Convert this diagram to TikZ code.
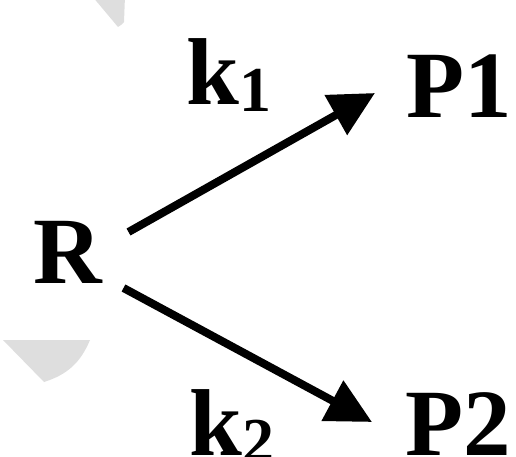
\documentclass[tikz,border=0pt]{standalone}
\usepackage{fontspec}
\setmainfont{Liberation Serif}
\definecolor{ShadeGray}{HTML}{DEDEDE}
\usetikzlibrary{positioning,arrows.meta}

\begin{document}
\begin{tikzpicture}[x=1pt,y=-1pt,
    spec/.style={inner sep=0pt, anchor=base west, font=\fontsize{95pt}{100pt}\selectfont\bfseries},
    rxn/.style={line width=8pt, -{Triangle[length=45pt,width=44pt]}}]
  \useasboundingbox (0,0) rectangle (516,457);
  % faded marks on the left
  \fill[ShadeGray] (92,-4) -- (125,-4) -- (124,22) to[bend left=10] (118,27) -- cycle;
  \fill[ShadeGray] (3,340) -- (90,340) to[bend left=25] (44,382) -- cycle;
  % species
  \node[spec] (R) at (33.5,283) {R};
  \node[spec] (P1) at (406,118) {P1};
  \node[spec] (P2) at (405,455) {P2};
  \node[spec] (k1) at (186,105) {k\raisebox{-7pt}{\fontsize{64pt}{70pt}\selectfont 1}};
  \node[spec] (k2) at (189,455) {k\raisebox{-7pt}{\fontsize{64pt}{70pt}\selectfont 2}};
  % reactions
  \draw[rxn] ([xshift=26pt,yshift=51pt]R.base east) -- ([xshift=-31pt,yshift=25pt]P1.base west);
  \draw[rxn] ([xshift=21pt,yshift=-5pt]R.base east) -- ([xshift=-33pt,yshift=33pt]P2.base west);
\end{tikzpicture}
\end{document}
